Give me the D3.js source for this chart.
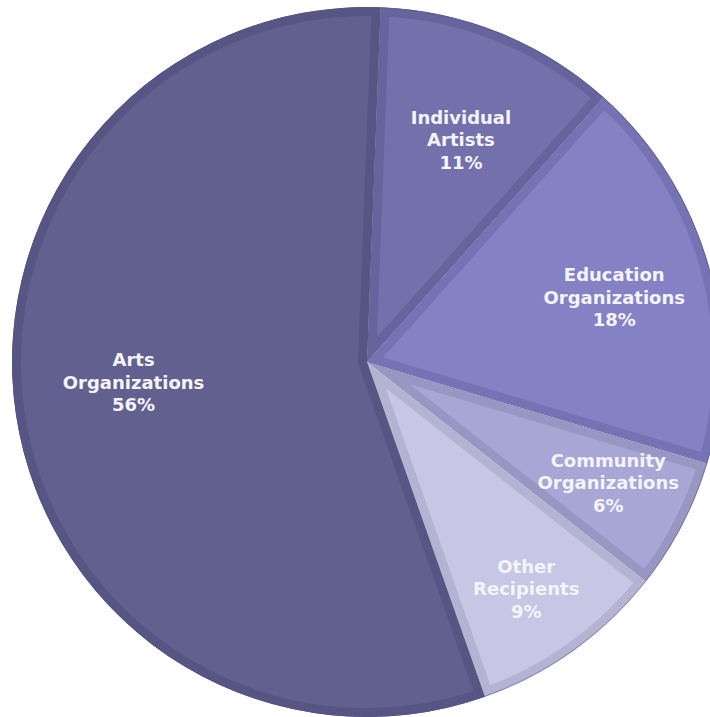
<!DOCTYPE html>
<html>
<head>
<meta charset="utf-8">
<script src="https://cdn.jsdelivr.net/npm/d3@7"></script>
<style>
  body { margin: 0; background: #fff; }
  svg { display: block; }
</style>
</head>
<body>
<svg id="vis" width="710" height="717"></svg>
<script>
// slice data, clockwise from the top
const categories = ["Individual Artists", "Education Organizations", "Community Organizations", "Other Recipients", "Arts Organizations"];
const labelLines = [["Individual", "Artists"], ["Education", "Organizations"], ["Community", "Organizations"], ["Other", "Recipients"], ["Arts", "Organizations"]];
const shares = [11, 18, 6, 9, 56];

const fills = ["#7371ab", "#8482c5", "#a8a6d4", "#c7c6e5", "#62608e"];
const edges = ["#66649c", "#7573b3", "#9896c3", "#b4b3d2", "#575583"];
// label placement: fraction of radius and angle nudge (degrees) from slice middle
const labelRadius = [0.68, 0.72, 0.76, 0.78, 0.66];
const labelNudge = [0.9, 1.1, -0.8, 0.5, 3.7];

const svg = d3.select("#vis");
const cx = 367, cy = 362, r = 355;
const band = 9;
const rad = Math.PI / 180;

const g = svg.append("g").attr("transform", `translate(${cx}, ${cy})`);

const pie = d3.pie()
  .sort(null)
  .value(d => d)
  .startAngle(2.2 * rad)
  .endAngle(2 * Math.PI + 2.2 * rad);

const arcs = pie(shares);
const arc = d3.arc().innerRadius(0).outerRadius(r);

const defs = svg.append("defs");
arcs.forEach((a, i) => {
  defs.append("clipPath").attr("id", "clip" + i)
    .append("path").attr("d", arc(a));
});

g.selectAll("path.slice")
  .data(arcs)
  .join("path")
  .attr("class", "slice")
  .attr("d", arc)
  .attr("fill", (d, i) => fills[i])
  .attr("stroke", (d, i) => edges[i])
  .attr("stroke-width", band * 2)
  .attr("stroke-linejoin", "round")
  .attr("clip-path", (d, i) => `url(#clip${i})`);

// thin outer rim
g.append("circle")
  .attr("r", r - 0.5)
  .attr("fill", "none")
  .attr("stroke", "#55537f")
  .attr("stroke-opacity", 0.5)
  .attr("stroke-width", 1);

const labels = g.selectAll("text.lbl")
  .data(arcs)
  .join("text")
  .attr("class", "lbl")
  .attr("transform", (d, i) => {
    const a = (d.startAngle + d.endAngle) / 2 + labelNudge[i] * rad;
    const lr = r * labelRadius[i];
    return `translate(${lr * Math.sin(a)}, ${-lr * Math.cos(a)})`;
  })
  .attr("text-anchor", "middle")
  .attr("font-family", "Verdana, 'DejaVu Sans', sans-serif")
  .attr("font-weight", "bold")
  .attr("font-size", 18)
  .attr("fill", "#f4f4fa");

labels.each(function(d, i) {
  const t = d3.select(this);
  const lines = labelLines[i].concat([shares[i] + "%"]);
  lines.forEach((s, k) => {
    t.append("tspan")
      .attr("x", 0)
      .attr("y", (k - 1) * 22.5 + 6.5)
      .text(s);
  });
});
</script>
</body>
</html>
